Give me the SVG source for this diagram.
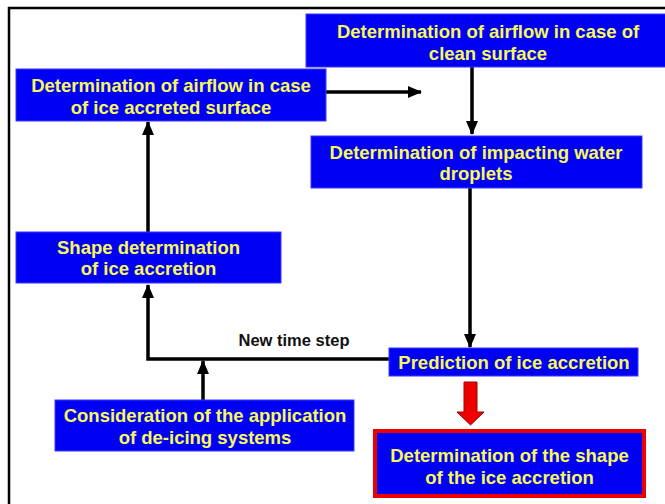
<svg xmlns="http://www.w3.org/2000/svg" width="665" height="504" viewBox="0 0 665 504">
<defs>
<style>
.box{fill:#0000F5;stroke:#3a3aff;stroke-width:1}
.t{font-family:"Liberation Sans",Arial,sans-serif;font-weight:bold;font-size:18.5px;fill:#F8F85A;text-anchor:middle}
.lbl{font-family:"Liberation Sans",Arial,sans-serif;font-weight:bold;font-size:16.5px;fill:#111;text-anchor:middle}
.c{fill:none;stroke:#000;stroke-width:3.5}
</style>
<marker id="ah" markerWidth="14" markerHeight="12" refX="13" refY="6" orient="auto" markerUnits="userSpaceOnUse">
<path d="M0,0 L14,6 L0,12 Z" fill="#000"/>
</marker>
</defs>
<rect x="0" y="0" width="665" height="504" fill="#fff"/>
<path d="M9,504 L9,8 L665,8" fill="none" stroke="#000" stroke-width="2.5"/>
<g id="connectors">
<path class="c" d="M326,92 L421,92" marker-end="url(#ah)"/>
<path class="c" d="M472,67 L472,134" marker-end="url(#ah)"/>
<path class="c" d="M470,188 L470,347" marker-end="url(#ah)"/>
<path class="c" d="M389,359 L148,359 L148,285" marker-end="url(#ah)"/>
<path class="c" d="M148,232 L148,122" marker-end="url(#ah)"/>
<path class="c" d="M203,400 L203,361" marker-end="url(#ah)"/>
<path d="M464,382 L477,382 L477,412 L484,412 L470.5,425 L457,412 L464,412 Z" fill="#ee0000" stroke="#a00000" stroke-width="1"/>
</g>
<g id="clean">
<rect class="box" x="306" y="14" width="362" height="53"/>
<text class="t" x="488" y="38">Determination of airflow in case of</text>
<text class="t" x="488" y="60">clean surface</text>
</g>
<g id="iceaccreted">
<rect class="box" x="16" y="69" width="310" height="52"/>
<text class="t" x="171" y="92">Determination of airflow in case</text>
<text class="t" x="171" y="114">of ice accreted surface</text>
</g>
<g id="droplets">
<rect class="box" x="311" y="136" width="331" height="52"/>
<text class="t" x="476" y="159">Determination of impacting water</text>
<text class="t" x="476" y="180">droplets</text>
</g>
<g id="shape">
<rect class="box" x="16" y="232" width="265" height="51"/>
<text class="t" x="148.5" y="254">Shape determination</text>
<text class="t" x="148.5" y="275">of ice accretion</text>
</g>
<g id="prediction">
<rect class="box" x="389" y="348" width="249" height="28"/>
<text class="t" x="514" y="368.5">Prediction of ice accretion</text>
</g>
<g id="deicing">
<rect class="box" x="55" y="400" width="299" height="51"/>
<text class="t" x="205" y="421.5">Consideration of the application</text>
<text class="t" x="205" y="443.5">of de-icing systems</text>
</g>
<g id="finalshape">
<rect x="375" y="431" width="269" height="65" fill="#0000F5" stroke="#ee0000" stroke-width="4"/>
<text class="t" x="509.5" y="461.5">Determination of the shape</text>
<text class="t" x="509.5" y="483.5">of the ice accretion</text>
</g>
<text class="lbl" x="294" y="346">New time step</text>
</svg>
